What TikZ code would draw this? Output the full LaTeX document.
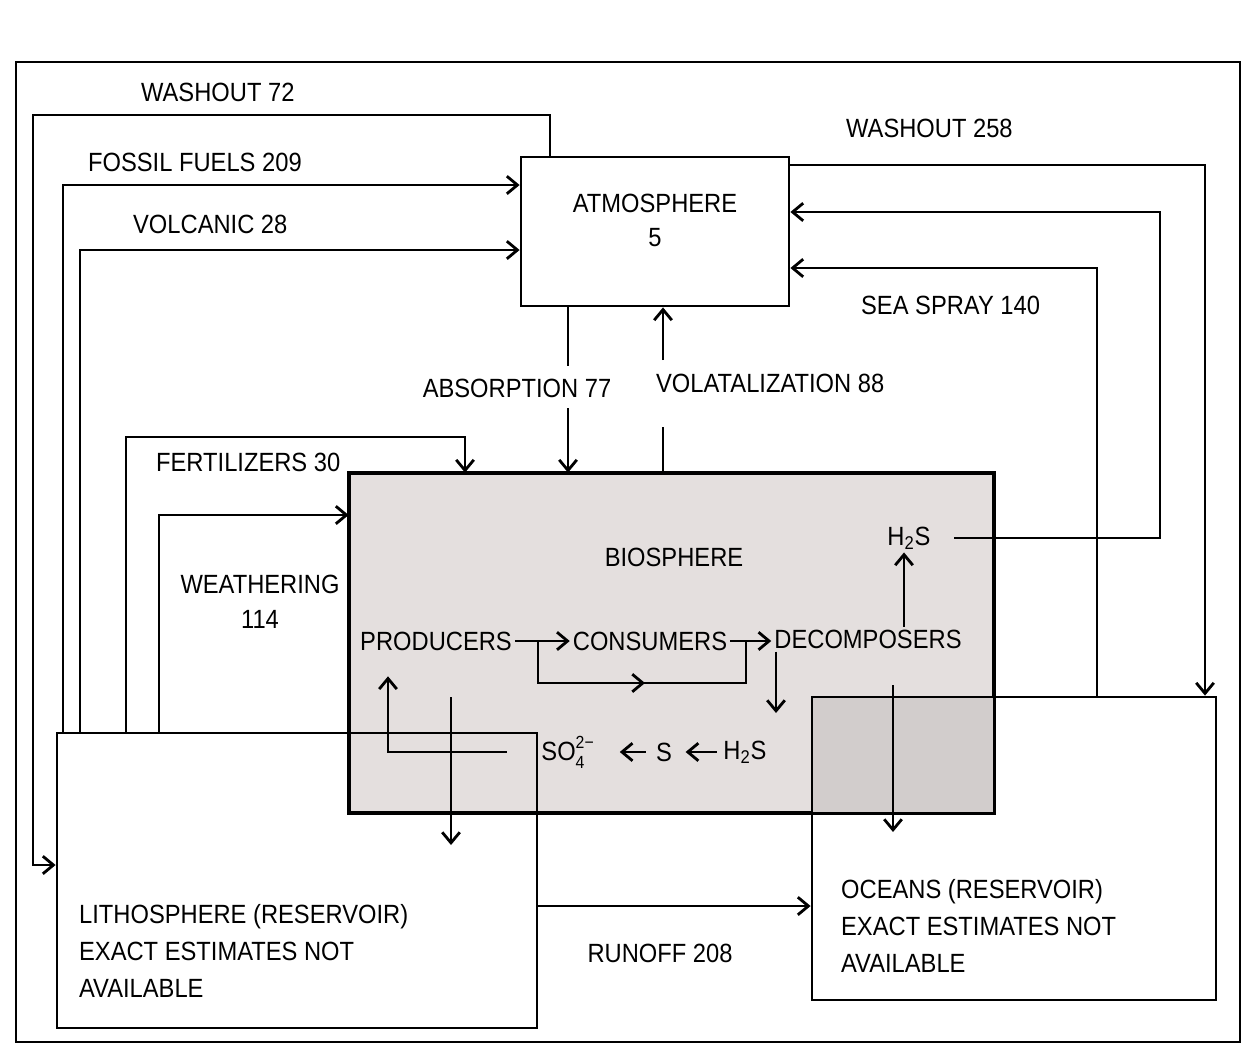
\documentclass[tikz,border=0pt]{standalone}
\usepackage{fontspec}
\setmainfont{Liberation Sans}[FakeStretch=0.9]
\usetikzlibrary{arrows.meta,fit,calc}
\definecolor{biogray}{RGB}{228,223,222}
\definecolor{biodark}{RGB}{210,205,204}
\newcommand{\smallidx}[1]{{\fontsize{10}{10}\selectfont #1}}
\begin{document}
\begin{tikzpicture}[x=0.02cm,y=-0.02cm,line width=1.6pt,
  lbl/.style={font=\fontsize{15}{18}\selectfont,inner sep=1pt},
  para/.style={font=\fontsize{15}{21}\selectfont,inner sep=1pt,align=left},
  arr/.style={-{Straight Barb[length=6pt,width=10pt]}},
  box/.style={draw,inner sep=0pt}]
\useasboundingbox (0,0) rectangle (1247,1058);
\fill[white] (0,0) rectangle (1247,1058);
% outer frame
\draw (16,62) rectangle (1240,1042);
% boxes
\node[box,fit={(521,157)(789,306)}] (atm) {};
\node[box,fill=biogray,fit={(350,474)(993,812)}] (bio) {};
\fill[biodark] (812,697) rectangle (993,812);
\node[box,fit={(57,733)(537,1028)}] (litho) {};
\node[box,fit={(812,697)(1216,1000)}] (ocean) {};
\draw (bio.north west) rectangle (bio.south east);
% box texts
\node[lbl] (atmt) at (655,203) {ATMOSPHERE};
\node[lbl] (atmn) at (655,238) {5};
\node[para,anchor=west] (lithot) at (76,951) {LITHOSPHERE (RESERVOIR)\\EXACT ESTIMATES NOT\\AVAILABLE};
\node[para,anchor=west] (oceant) at (838,926) {OCEANS (RESERVOIR)\\EXACT ESTIMATES NOT\\AVAILABLE};
% flow labels
\node[lbl,anchor=west] (lw72) at (138,92) {WASHOUT 72};
\node[lbl,anchor=west] (lff) at (85,162) {FOSSIL FUELS 209};
\node[lbl,anchor=west] (lvo) at (130,224) {VOLCANIC 28};
\node[lbl,anchor=west] (lfe) at (153,462) {FERTILIZERS 30};
\node[lbl,align=center,font=\fontsize{15}{20}\selectfont] (lwe) at (260,602) {WEATHERING\\114};
\node[lbl,anchor=west] (lw258) at (843,128) {WASHOUT 258};
\node[lbl,anchor=west] (lss) at (858,305) {SEA SPRAY 140};
\node[lbl] (lab) at (517,388) {ABSORPTION 77};
\node[lbl,anchor=west] (lvl) at (653,383) {VOLATALIZATION 88};
\node[lbl] (lro) at (660,953) {RUNOFF 208};
% flows from lithosphere / to atmosphere (left side)
\draw[arr] (atm.north -| 550,0) -- (550,115) -- (33,115) -- (33,865) -- (litho.west |- 0,865);
\draw[arr] (litho.north -| 63,0) -- (63,185) -- (atm.west |- 0,185);
\draw[arr] (litho.north -| 80,0) -- (80,250) -- (atm.west |- 0,250);
\draw[arr] (litho.north -| 126,0) -- (126,437) -- (465,437) -- (bio.north -| 465,0);
\draw[arr] (litho.north -| 159,0) -- (159,515) -- (bio.west |- 0,515);
% right side
\draw[arr] (atm.east |- 0,165) -- (1205,165) -- (ocean.north -| 1205,0);
\draw[arr] (ocean.north -| 1097,0) -- (1097,268) -- (atm.east |- 0,268);
% absorption / volatalization
\draw (atm.south -| 568,0) -- (568,366);
\draw[arr] (568,408) -- (bio.north -| 568,0);
\draw (bio.north -| 663,0) -- (663,427);
\draw[arr] (663,360) -- (atm.south -| 663,0);
% biosphere contents
\node[lbl] (biot) at (674,557) {BIOSPHERE};
\node[lbl] (prod) at (436,641) {PRODUCERS};
\node[lbl] (cons) at (650,641) {CONSUMERS};
\node[lbl] (deco) at (868,639) {DECOMPOSERS};
\node[lbl] (h2st) at (909,538) {H\textsubscript{2}S};
\node[lbl] (h2sb) at (745,752) {H\textsubscript{2}S};
\node[lbl] (sn) at (664,752) {S};
\node[lbl] (so4) at (572,752) {SO\rlap{\raisebox{0.45em}{\smallidx{2−}}}\raisebox{-0.3em}{\smallidx{4}}\hphantom{\smallidx{2−}}};
\coordinate (h2sl) at (954,538);
\draw[arr] (h2sl) -- (1160,538) -- (1160,212) -- (atm.east |- 0,212);
\draw[arr] (prod.east) -- (cons.west);
\draw[arr] (cons.east) -- (deco.west |- cons.east);
\draw[arr] (prod.east -| 538,0) -- (538,683) -- (645,683);
\draw (640,683) -- (746,683) -- (cons.east -| 746,0);
\draw[arr] (deco.north -| 904,0) -- (h2st.south -| 904,0);
\draw[arr] (deco.south -| 776,0) -- (776,713);
\draw[arr,shorten <=2pt,shorten >=6pt] (h2sb.west) -- (sn.east);
\draw[arr,shorten <=4pt,shorten >=8pt] (sn.west) -- (so4.east);
\draw[arr,shorten <=18pt,shorten >=13pt] (so4.west) -- (388,752) -- (prod.south -| 388,0);
\coordinate (pl) at (451,697);
\draw[arr] (pl) -- (451,845);
\coordinate (dl) at (893,685);
\draw[arr] (dl) -- (893,832);
% runoff
\draw[arr] (litho.east |- 0,906) -- (ocean.west |- 0,906);
\end{tikzpicture}
\end{document}
